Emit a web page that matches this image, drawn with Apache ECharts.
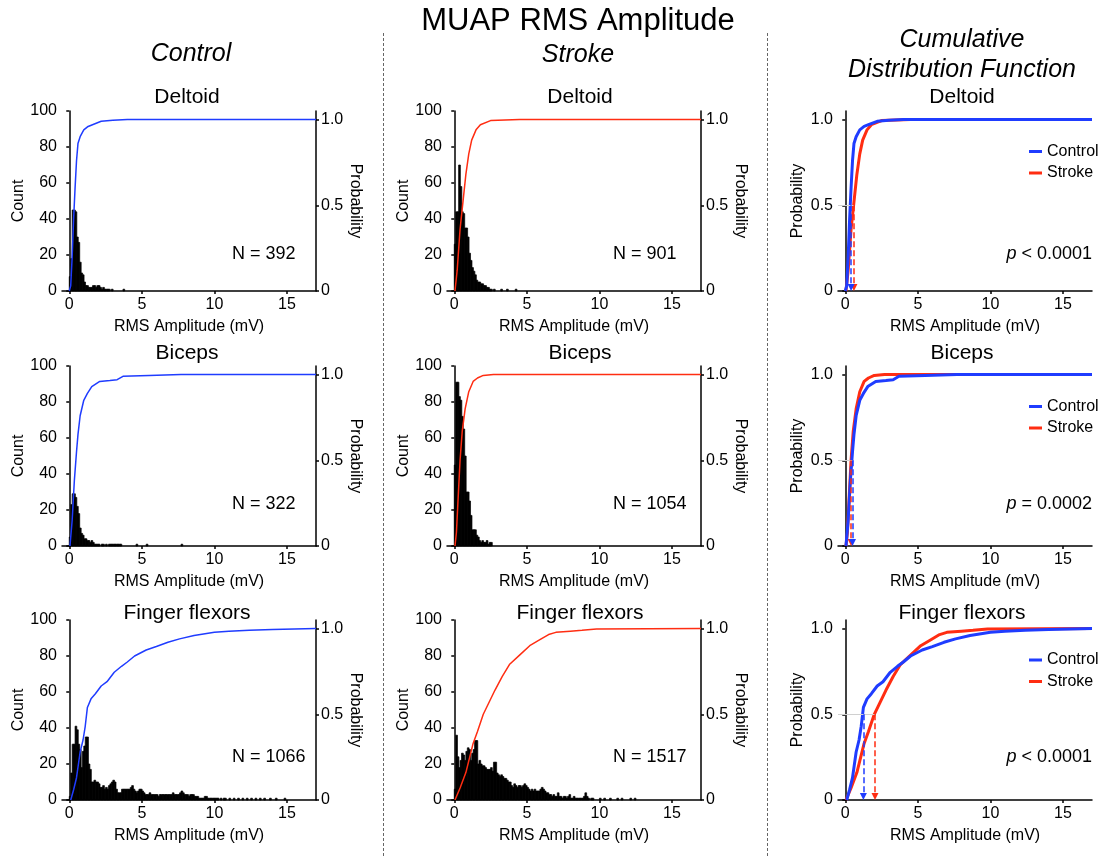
<!DOCTYPE html>
<html>
<head>
<meta charset="utf-8">
<script src="https://cdn.jsdelivr.net/npm/echarts@6/dist/echarts.min.js"></script>
<style>
  html, body { margin: 0; background: #fff; }
  #main { width: 1108px; height: 856px; }
</style>
</head>
<body>
<div id="main"></div>
<script>
/* ---------- data ---------- */
const BIN = 0.1; // histogram bin width (mV)
const muscles = ['Deltoid', 'Biceps', 'Finger flexors'];
const ctlN = [392, 322, 1066];
const strN = [901, 1054, 1517];
const pText = ['< 0.0001', '= 0.0002', '< 0.0001'];
const xTicks = [0, 5, 10, 15];
const probTicks = [0, 0.5, 1];

// counts per 0.1 mV bin, starting at 0
const ctlDeltoidHist = [8, 18, 45, 45, 44, 30, 27, 16, 10, 9,
  5, 3, 3, 2, 2, 2, 3, 3, 2, 3,
  3, 2, 1, 2, 1, 1, 1, 1, 0, 1,
  0, 0, 0, 0, 0, 0, 0, 1];
const ctlBicepsHist = [5, 23, 29, 29, 27, 22, 18, 10, 7, 6,
  4, 4, 3, 3, 2, 3, 2, 1, 1, 1,
  1, 0, 1, 1, 0, 1, 0, 1, 1, 1,
  1, 1, 1, 1, 1, 1, 0, 0, 0, 0,
  0, 0, 0, 0, 0, 0, 1, 0, 0, 0,
  0, 0, 0, 1, 0, 0, 0, 0, 0, 0,
  0, 0, 0, 0, 0, 0, 0, 0, 0, 0,
  0, 0, 0, 0, 0, 0, 0, 1];
const ctlFingerHist = [2, 15, 31, 31, 41, 39, 31, 28, 18, 27,
  30, 35, 35, 20, 17, 10, 10, 11, 10, 10,
  9, 7, 7, 8, 6, 7, 6, 8, 9, 10,
  11, 10, 6, 4, 4, 4, 6, 6, 6, 6,
  6, 6, 7, 8, 6, 5, 4, 5, 6, 6,
  5, 4, 3, 3, 3, 4, 3, 3, 3, 3,
  3, 2, 3, 3, 3, 3, 3, 3, 3, 3,
  3, 4, 3, 3, 3, 3, 4, 5, 4, 3,
  3, 3, 2, 3, 3, 3, 2, 2, 2, 1,
  1, 1, 1, 2, 2, 1, 1, 1, 1, 1,
  1, 1, 1, 0, 1, 0, 1, 1, 0, 0,
  1, 0, 0, 1, 0, 0, 1, 0, 0, 1,
  0, 0, 1, 0, 0, 1, 0, 0, 1, 0,
  0, 1, 0, 0, 1, 0, 0, 0, 1, 0,
  0, 0, 1, 0, 0, 0, 0, 0, 1];
const strDeltoidHist = [26, 44, 44, 70, 58, 44, 43, 35, 35, 30,
  21, 17, 13, 11, 9, 6, 5, 5, 4, 4,
  3, 3, 2, 2, 1, 1, 0, 1, 0, 0,
  0, 0, 1, 0, 0, 0, 1, 0, 0, 0,
  0, 0, 1];
const strBicepsHist = [45, 91, 91, 83, 81, 72, 65, 50, 30, 30,
  25, 17, 9, 9, 9, 6, 5, 3, 2, 3,
  2, 2, 3, 1, 2, 2];
const strFingerHist = [6, 36, 24, 18, 22, 26, 25, 22, 27, 29,
  28, 22, 26, 28, 33, 33, 20, 22, 20, 19,
  19, 18, 17, 17, 17, 18, 16, 21, 21, 15,
  14, 13, 14, 13, 12, 12, 11, 10, 10, 8,
  7, 9, 8, 7, 8, 8, 7, 8, 9, 8,
  7, 6, 5, 6, 5, 6, 5, 5, 5, 6,
  7, 6, 5, 4, 4, 3, 3, 2, 3, 2,
  2, 4, 2, 2, 1, 2, 2, 1, 2, 3,
  1, 1, 2, 1, 1, 1, 1, 1, 1, 2,
  4, 2, 1, 0, 1, 1, 0, 0, 0, 0,
  1, 0, 0, 1, 0, 0, 0, 1, 0, 0,
  0, 0, 1, 0, 0, 1, 0, 0, 0, 0,
  0, 1, 0, 0, 1];

// cumulative distribution [mV, probability]
const ctlDeltoidCdf = [[0, 0], [0.1, 0.03], [0.2, 0.2], [0.3, 0.42], [0.4, 0.6], [0.5, 0.76], [0.6, 0.86],
  [0.75, 0.9], [1.0, 0.94], [1.3, 0.96], [1.6, 0.97], [2.2, 0.99], [3, 0.996], [4, 1], [17, 1]];
const strDeltoidCdf = [[0.05, 0], [0.2, 0.12], [0.4, 0.36], [0.6, 0.52], [0.8, 0.68], [1.0, 0.8], [1.2, 0.88],
  [1.5, 0.94], [1.8, 0.97], [2.5, 0.994], [4.5, 1], [17, 1]];
const ctlBicepsCdf = [[0.05, 0], [0.2, 0.15], [0.35, 0.38], [0.5, 0.55], [0.6, 0.65], [0.75, 0.76], [1.0, 0.85],
  [1.25, 0.89], [1.55, 0.93], [2.1, 0.96], [2.8, 0.965], [3.3, 0.97], [3.7, 0.99], [5.5, 0.995], [7.7, 1], [17, 1]];
const strBicepsCdf = [[0.05, 0], [0.15, 0.08], [0.25, 0.25], [0.4, 0.5], [0.55, 0.67], [0.75, 0.8], [1.0, 0.9],
  [1.3, 0.96], [1.6, 0.98], [2.0, 0.995], [2.7, 1], [17, 1]];
const ctlFingerCdf = [[0.1, 0], [0.3, 0.06], [0.5, 0.13], [0.75, 0.28], [0.95, 0.35], [1.1, 0.43], [1.25, 0.54],
  [1.5, 0.59], [1.8, 0.62], [2.2, 0.665], [2.6, 0.69], [3.1, 0.745], [3.6, 0.78], [4.0, 0.805], [4.5, 0.84],
  [5.3, 0.875], [6.0, 0.895], [6.8, 0.92], [7.6, 0.94], [8.6, 0.96], [10, 0.978], [11, 0.985], [12.4, 0.99],
  [14, 0.995], [17, 1]];
const strFingerCdf = [[0.05, 0], [0.4, 0.07], [0.8, 0.16], [1.3, 0.33], [1.6, 0.4], [2.0, 0.5], [2.4, 0.57],
  [2.8, 0.64], [3.3, 0.72], [3.8, 0.79], [4.5, 0.845], [5.2, 0.9], [5.9, 0.935], [6.5, 0.965], [7.0, 0.978],
  [8.0, 0.985], [8.8, 0.99], [9.8, 0.997], [17, 1]];

const ctlMedian = [0.4, 0.5, 1.25];
const strMedian = [0.6, 0.4, 2.05];

const ctlHists = [ctlDeltoidHist, ctlBicepsHist, ctlFingerHist];
const strHists = [strDeltoidHist, strBicepsHist, strFingerHist];
const ctlCdfs = [ctlDeltoidCdf, ctlBicepsCdf, ctlFingerCdf];
const strCdfs = [strDeltoidCdf, strBicepsCdf, strFingerCdf];

/* ---------- style ---------- */
const FONT = '"Liberation Sans", Arial, sans-serif';
const BLUE = '#1f3cff';
const RED = '#ff2d12';
const colLeft = [62, 447, 838];
const rowTop = [111, 366, 620];
const PW = 254, PH = 180;

const axLine = { show: true, lineStyle: { color: '#000', width: 1.5 } };
const axTick = { show: true, length: 3, lineStyle: { color: '#000', width: 1.5 } };
const axLabel = { color: '#000', fontSize: 16, fontFamily: FONT, margin: 5 };
const nameStyle = { color: '#000', fontSize: 16, fontFamily: FONT };
const fmtProb = v => (v === 0 ? '0' : v.toFixed(1));

const toBins = arr => arr.map((c, i) => [i * BIN, c]).filter(d => d[1] > 0);

function renderBin(params, api) {
    const x0 = api.value(0), cnt = api.value(1);
    const p0 = api.coord([x0, cnt]);
    const p1 = api.coord([x0 + BIN, 0]);
    return {
        type: 'rect',
        shape: { x: p0[0], y: p0[1], width: p1[0] - p0[0] + 0.3, height: p1[1] - p0[1] },
        style: { fill: '#000', stroke: '#000', lineWidth: 0.7 }
    };
}

/* ---------- build ---------- */
const grids = [], xAxes = [], yAxes = [], series = [], legends = [];
for (let r = 0; r < 3; r++) {
    for (let c = 0; c < 3; c++) {
        const g = grids.length;
        grids.push({ left: colLeft[c], top: rowTop[r], width: PW, height: PH });
        xAxes.push({
            type: 'value', gridIndex: g, min: -0.5, max: 17,
            name: 'RMS Amplitude (mV)', nameLocation: 'middle', nameGap: 28, nameTextStyle: nameStyle,
            axisLine: axLine, axisTick: { ...axTick, customValues: xTicks },
            axisLabel: { ...axLabel, margin: 6, customValues: xTicks }, splitLine: { show: false }
        });
        const yi = yAxes.length;
        if (c < 2) {
            yAxes.push({
                type: 'value', gridIndex: g, position: 'left', min: 0, max: 100, interval: 20,
                name: 'Count', nameLocation: 'middle', nameGap: 33, nameTextStyle: nameStyle,
                axisLine: axLine, axisTick: axTick, axisLabel: axLabel, splitLine: { show: false }
            });
            yAxes.push({
                type: 'value', gridIndex: g, position: 'right', min: 0, max: 1.05,
                name: 'Probability', nameLocation: 'middle', nameGap: 31, nameRotate: -90, nameTextStyle: nameStyle,
                axisLine: axLine, axisTick: { ...axTick, customValues: probTicks },
                axisLabel: { ...axLabel, customValues: probTicks, formatter: fmtProb }, splitLine: { show: false }
            });
            const isCtl = c === 0;
            series.push({
                type: 'custom', name: isCtl ? 'ctl hist' : 'str hist', xAxisIndex: g, yAxisIndex: yi,
                renderItem: renderBin, data: toBins(isCtl ? ctlHists[r] : strHists[r]), silent: true
            });
            series.push({
                type: 'line', name: isCtl ? 'ctl cdf' : 'str cdf', xAxisIndex: g, yAxisIndex: yi + 1,
                data: isCtl ? ctlCdfs[r] : strCdfs[r], showSymbol: false, silent: true,
                lineStyle: { color: isCtl ? BLUE : RED, width: 1.5 }, itemStyle: { color: isCtl ? BLUE : RED }
            });
        } else {
            yAxes.push({
                type: 'value', gridIndex: g, position: 'left', min: 0, max: 1.05,
                name: 'Probability', nameLocation: 'middle', nameGap: 32, nameTextStyle: nameStyle,
                axisLine: axLine, axisTick: { ...axTick, customValues: probTicks },
                axisLabel: { ...axLabel, customValues: probTicks, formatter: fmtProb }, splitLine: { show: false }
            });
            const arrow = (m, col) => ({
                silent: true, symbol: ['none', 'triangle'], symbolSize: 7, label: { show: false },
                lineStyle: { type: 'dashed', width: 1.5, color: col }, emphasis: { disabled: true },
                data: [[{ coord: [m, 0.5] }, { coord: [m, 0.02] }]]
            });
            const strMl = arrow(strMedian[r], RED);
            strMl.data.unshift([
                { coord: [-0.5, 0.5], symbol: 'none', lineStyle: { type: 'solid', color: '#d0d0d0', width: 1 } },
                { coord: [Math.max(ctlMedian[r], strMedian[r]), 0.5], symbol: 'none' }
            ]);
            series.push({
                type: 'line', name: 'Stroke', xAxisIndex: g, yAxisIndex: yi, data: strCdfs[r],
                showSymbol: false, silent: true, lineStyle: { color: RED, width: 3 }, itemStyle: { color: RED },
                markLine: strMl
            });
            series.push({
                type: 'line', name: 'Control', xAxisIndex: g, yAxisIndex: yi, data: ctlCdfs[r],
                showSymbol: false, silent: true, lineStyle: { color: BLUE, width: 3 }, itemStyle: { color: BLUE },
                markLine: arrow(ctlMedian[r], BLUE)
            });
            legends.push({
                orient: 'vertical', left: 1029, top: [143.5, 398.5, 652][r], padding: 0,
                itemWidth: 13, itemHeight: 3, itemGap: 5.5, icon: 'rect', selectedMode: false,
                data: ['Control', 'Stroke'], textStyle: { color: '#000', fontSize: 16, fontFamily: FONT }
            });
        }
    }
}

/* ---------- texts ---------- */
const txt = (x, y, text, size, extra) => ({
    type: 'text', x, y, silent: true,
    style: Object.assign({
        text, fill: '#000', font: `${size}px ${FONT}`,
        align: 'center', verticalAlign: 'middle', textAlign: 'center', textVerticalAlign: 'middle'
    }, extra || {})
});
const graphics = [
    { type: 'line', silent: true, shape: { x1: 383.5, y1: 33, x2: 383.5, y2: 856 }, style: { stroke: '#666', lineWidth: 1, lineDash: [3, 2] } },
    { type: 'line', silent: true, shape: { x1: 767.5, y1: 33, x2: 767.5, y2: 856 }, style: { stroke: '#666', lineWidth: 1, lineDash: [3, 2] } },
    txt(578, 21, 'MUAP RMS Amplitude', 31),
    txt(191, 54, 'Control', 25, { font: `italic 25px ${FONT}` }),
    txt(578, 55, 'Stroke', 25, { font: `italic 25px ${FONT}` }),
    txt(962, 40, 'Cumulative', 25, { font: `italic 25px ${FONT}` }),
    txt(962, 70, 'Distribution Function', 25, { font: `italic 25px ${FONT}` })
];
const subX = [187, 580, 962], subY = [97, 353, 613];
const labY = [254, 504, 757];
for (let r = 0; r < 3; r++) {
    for (let c = 0; c < 3; c++) graphics.push(txt(subX[c], subY[r], muscles[r], 21));
    graphics.push(txt(232, labY[r], 'N = ' + ctlN[r], 18, { align: 'left', textAlign: 'left' }));
    graphics.push(txt(613, labY[r], 'N = ' + strN[r], 18, { align: 'left', textAlign: 'left' }));
    graphics.push(txt(1092, labY[r], '{i|p} ' + pText[r], 18, {
        align: 'right', textAlign: 'right',
        rich: { i: { fontStyle: 'italic', fontSize: 18, fontFamily: FONT, fill: '#000' } }
    }));
}

const chart = echarts.init(document.getElementById('main'), null, { renderer: 'canvas' });
chart.setOption({
    animation: false,
    backgroundColor: '#fff',
    textStyle: { fontFamily: FONT },
    grid: grids, xAxis: xAxes, yAxis: yAxes, legend: legends, series,
    graphic: graphics
});
window.addEventListener('resize', () => chart.resize());
</script>
</body>
</html>
